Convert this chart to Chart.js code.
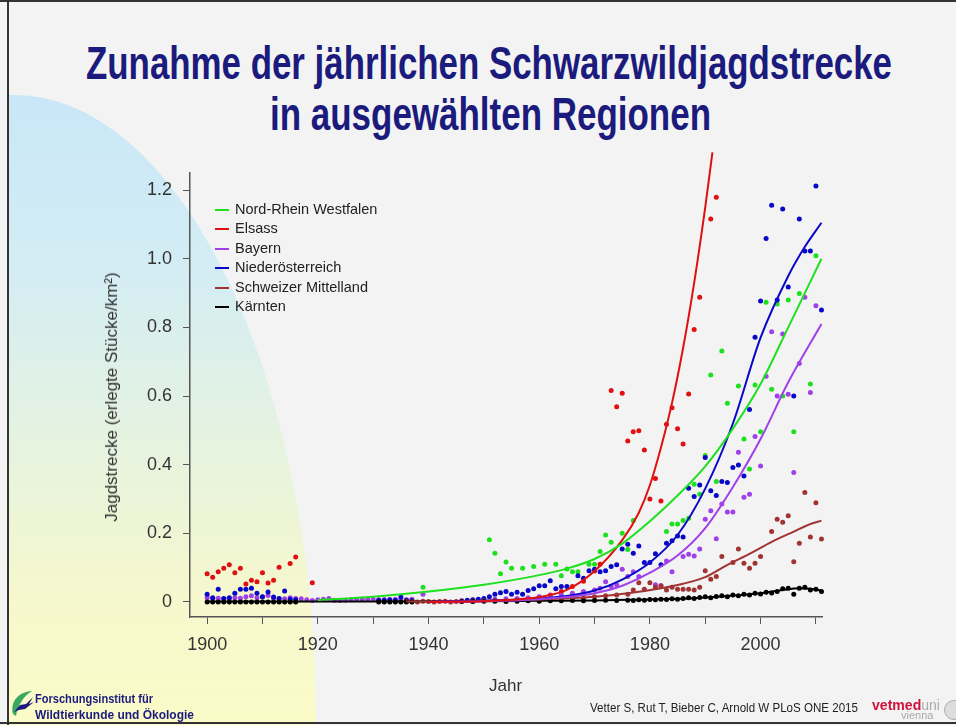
<!DOCTYPE html>
<html>
<head>
<meta charset="utf-8">
<script src="https://cdn.jsdelivr.net/npm/chart.js@4.4.1/dist/chart.umd.min.js"></script>
<style>
html, body { margin: 0; padding: 0; }
body { width: 956px; height: 725px; position: relative; overflow: hidden; background: #f3f3f3; font-family: "Liberation Sans", Arial, sans-serif; }
#blobClip { position: absolute; left: 8px; top: 0; width: 400px; height: 725px; overflow: hidden; }
#blob { position: absolute; left: -296px; top: 95px; width: 604px; height: 1260px; border-radius: 50%;
  background: linear-gradient(#c9e7f8 0%, #d4edf4 14%, #e6f3df 28%, #f6f8cd 40%, #fbfbc8 50%, #fbfbc8 100%); }
.frame { position: absolute; background: #333; }
.fit { position: absolute; white-space: nowrap; transform-origin: 0 0; }
.title { font-family: "Liberation Sans Narrow", "Liberation Sans", Arial, sans-serif; font-weight: bold; font-size: 47px; line-height: 47px; color: #1b1b7d; }
#chartBox { position: absolute; left: 0; top: 0; width: 956px; height: 725px; }
.legend { position: absolute; left: 215px; top: 200px; font-size: 14.5px; color: #222; }
.legend div { height: 19.4px; line-height: 19.4px; position: relative; padding-left: 20px; white-space: nowrap; }
.legend span { position: absolute; left: 0; top: 9px; width: 14px; height: 2px; }
.axt { position: absolute; font-size: 17px; color: #333; white-space: nowrap; }
.inst { font-weight: bold; font-size: 12px; color: #1b1b7d; line-height: 14px; }
.cite { font-size: 12px; color: #222; }
</style>
</head>
<body>
<div id="blobClip"><div id="blob"></div></div>
<div class="frame" style="left:0;top:0;width:956px;height:2px;"></div>
<div class="frame" style="left:7px;top:0;width:2px;height:725px;"></div>
<div class="frame" style="left:0;top:722px;width:956px;height:2px;"></div>

<div id="t1" class="fit title" style="left:86px;top:39px;">Zunahme der jährlichen Schwarzwildjagdstrecke</div>
<div id="t2" class="fit title" style="left:270px;top:90px;">in ausgewählten Regionen</div>

<div id="chartBox"><canvas id="chart" width="956" height="725"></canvas></div>

<div class="legend" id="legend"></div>
<div class="axt" style="left:112px;top:397px;transform:translate(-50%,-50%) rotate(-90deg);">Jagdstrecke (erlegte Stücke/km²)</div>
<div class="axt" style="left:489px;top:676px;">Jahr</div>

<svg style="position:absolute;left:10px;top:688px;" width="26" height="32" viewBox="0 0 26 32">
  <path d="M3 26 C0 14 8 4 22 3 C14 8 8 16 6 28 Z" fill="#3aa860"/>
  <path d="M4 24 L10 17 L16 16 L23 9 L19 16 L24 14 L15 21 L9 22 Z" fill="#1b1b7d"/>
</svg>
<div id="i1" class="fit inst" style="left:35px;top:692px;">Forschungsinstitut für</div>
<div id="i2" class="fit inst" style="left:35px;top:708px;">Wildtierkunde und Ökologie</div>
<div id="c1" class="fit cite" style="left:590px;top:701px;">Vetter S, Rut T, Bieber C, Arnold W PLoS ONE 2015</div>
<div id="v1" class="fit" style="left:872px;top:697px;font-size:14px;font-weight:bold;color:#d0103a;">vetmed<span style="font-weight:normal;color:#aaa;">uni</span></div>
<div class="fit" style="left:901px;top:709px;font-size:11px;color:#aaa;">vienna</div>
<div style="position:absolute;left:944px;top:700px;width:18px;height:18px;border-radius:50%;border:1px solid #aaa;background:#ddd;"></div>

<script>
// axis ticks
const yTicks = [0, 0.2, 0.4, 0.6, 0.8, 1.0, 1.2];
const xTicks = [1900, 1910, 1920, 1930, 1940, 1950, 1960, 1970, 1980, 1990, 2000, 2010];
const xLabelled = [1900, 1920, 1940, 1960, 1980, 2000];

const regions = ['Nord-Rhein Westfalen', 'Elsass', 'Bayern', 'Niederösterreich', 'Schweizer Mittelland', 'Kärnten'];
const colors = ['#1ee01e', '#e01010', '#a040e8', '#0808c8', '#a03434', '#000000'];

// yearly bag (year, animals per km²)
const nrwPoints = [[1939,0.043],[1951,0.181],[1952,0.142],[1953,0.082],[1954,0.116],[1955,0.098],[1957,0.098],[1959,0.103],
  [1961,0.110],[1963,0.110],[1964,0.076],[1965,0.096],[1966,0.088],[1967,0.088],[1969,0.110],[1970,0.110],[1971,0.147],
  [1972,0.195],[1973,0.174],[1975,0.200],[1976,0.153],[1977,0.237],[1983,0.205],[1984,0.227],[1985,0.227],[1986,0.237],
  [1987,0.244],[1988,0.343],[1989,0.314],[1990,0.427],[1991,0.661],[1992,0.351],[1993,0.731],[1994,0.579],[1996,0.629],
  [1997,0.475],[1998,0.387],[1999,0.632],[2000,0.496],[2001,0.873],[2002,0.620],[2003,0.868],[2004,0.600],[2005,0.880],
  [2006,0.496],[2007,0.899],[2008,1.265],[2009,0.635],[2010,1.009]];

const elsassPoints = [[1900,0.082],[1901,0.072],[1902,0.088],[1903,0.098],[1904,0.108],[1905,0.085],[1906,0.098],[1907,0.052],
  [1908,0.063],[1909,0.059],[1910,0.085],[1911,0.055],[1912,0.063],[1913,0.101],[1915,0.112],[1916,0.131],[1919,0.056],
  [1956,0.006],[1958,0.01],[1960,0.014],[1962,0.02],[1964,0.03],[1966,0.045],[1968,0.06],[1970,0.09],[1971,0.11],
  [1973,0.616],[1974,0.569],[1975,0.608],[1976,0.469],[1977,0.496],[1978,0.499],[1979,0.443],[1980,0.300],[1981,0.360],
  [1982,0.294],[1983,0.518],[1984,0.566],[1985,0.505],[1986,0.460],[1987,0.606],[1988,0.794],[1989,0.888],[1990,1.302],
  [1991,1.116],[1992,1.179]];

const bayernPoints = [[1900,0.012],[1901,0.010],[1902,0.011],[1903,0.009],[1904,0.010],[1905,0.012],[1906,0.011],[1907,0.015],
  [1908,0.018],[1909,0.012],[1910,0.014],[1911,0.019],[1912,0.011],[1913,0.010],[1914,0.009],[1915,0.012],[1916,0.010],
  [1917,0.009],[1918,0.006],[1919,0.004],[1920,0.006],[1921,0.008],[1922,0.010],[1923,0.005],[1924,0.004],[1925,0.005],
  [1926,0.006],[1927,0.007],[1928,0.008],[1929,0.008],[1930,0.007],[1931,0.006],[1932,0.007],[1933,0.006],[1934,0.008],
  [1935,0.007],[1936,0.006],[1937,0.008],[1939,0.022],[1946,0.004],[1948,0.005],[1950,0.006],[1952,0.008],[1954,0.009],
  [1956,0.010],[1958,0.012],[1960,0.015],[1962,0.018],[1964,0.020],[1966,0.025],[1968,0.030],[1970,0.035],[1971,0.040],
  [1972,0.059],[1973,0.045],[1974,0.050],[1975,0.095],[1976,0.074],[1977,0.088],[1978,0.074],[1981,0.050],[1982,0.047],
  [1983,0.119],[1984,0.088],[1986,0.132],[1987,0.139],[1988,0.134],[1989,0.154],[1990,0.241],[1991,0.266],[1992,0.184],
  [1993,0.285],[1994,0.262],[1995,0.262],[1996,0.436],[1997,0.305],[1998,0.314],[1999,0.482],[2000,0.396],[2001,0.658],
  [2002,0.787],[2003,0.600],[2004,0.781],[2005,0.605],[2006,0.377],[2007,0.695],[2008,0.888],[2009,0.610],[2010,0.863]];

const noePoints = [[1900,0.022],[1901,0.012],[1902,0.037],[1903,0.010],[1904,0.012],[1905,0.025],[1906,0.037],[1907,0.037],
  [1908,0.040],[1909,0.025],[1910,0.015],[1911,0.029],[1912,0.014],[1913,0.010],[1914,0.032],[1915,0.008],[1916,0.006],
  [1931,0.005],[1932,0.004],[1933,0.006],[1934,0.004],[1935,0.014],[1936,0.005],[1937,0.004],[1947,0.005],[1948,0.006],
  [1949,0.008],[1950,0.010],[1951,0.015],[1952,0.022],[1953,0.027],[1954,0.030],[1955,0.022],[1956,0.028],[1957,0.022],
  [1958,0.033],[1959,0.038],[1960,0.047],[1961,0.047],[1962,0.062],[1963,0.038],[1964,0.045],[1965,0.045],[1967,0.076],
  [1968,0.069],[1969,0.091],[1970,0.095],[1971,0.088],[1972,0.091],[1973,0.103],[1974,0.108],[1975,0.154],[1976,0.168],
  [1977,0.142],[1978,0.163],[1979,0.115],[1980,0.115],[1981,0.140],[1982,0.108],[1983,0.171],[1984,0.178],[1985,0.192],
  [1986,0.189],[1987,0.331],[1988,0.307],[1989,0.341],[1990,0.421],[1991,0.324],[1992,0.310],[1993,0.351],[1994,0.348],
  [1995,0.392],[1996,0.399],[1997,0.367],[1998,0.561],[1999,0.771],[2000,0.877],[2001,1.059],[2002,1.156],[2003,0.880],
  [2004,1.145],[2005,0.918],[2006,0.600],[2007,1.116],[2008,1.023],[2009,1.023],[2010,1.212],[2011,0.851]];

const schweizPoints = [[1936,0.002],[1937,0.001],[1938,0.000],[1939,0.002],[1940,0.001],[1941,0.000],[1942,0.001],[1943,0.002],
  [1944,0.000],[1945,0.001],[1946,0.002],[1948,0.002],[1950,0.003],[1952,0.004],[1954,0.003],[1956,0.005],[1958,0.006],
  [1960,0.007],[1962,0.008],[1964,0.010],[1966,0.012],[1968,0.011],[1970,0.015],[1972,0.018],[1974,0.020],[1976,0.022],
  [1977,0.035],[1978,0.056],[1979,0.037],[1980,0.056],[1981,0.043],[1982,0.047],[1983,0.035],[1984,0.043],[1985,0.037],
  [1986,0.037],[1987,0.037],[1988,0.035],[1989,0.043],[1990,0.091],[1991,0.066],[1992,0.074],[1993,0.132],[1995,0.115],
  [1996,0.154],[1997,0.113],[1998,0.098],[1999,0.113],[2000,0.132],[2002,0.205],[2003,0.241],[2004,0.232],[2005,0.251],
  [2006,0.117],[2007,0.171],[2008,0.319],[2009,0.189],[2010,0.289],[2011,0.183]];

const kaerntenPoints = [[1900,0],[1901,0],[1902,0],[1903,0],[1904,0],[1905,0],[1906,0],[1907,0],[1908,0],[1909,0],[1910,0],
  [1911,0],[1912,0],[1913,0],[1914,0],[1915,0],[1916,0],[1931,0],[1932,0],[1933,0],[1934,0],[1935,0],[1936,0],[1937,0],
  [1946,0.001],[1948,0.001],[1950,0.002],[1952,0.002],[1954,0.001],[1956,0.002],[1958,0.003],[1960,0.002],[1962,0.003],
  [1964,0.003],[1966,0.004],[1968,0.003],[1970,0.004],[1972,0.005],[1974,0.004],[1976,0.005],[1977,0.004],[1978,0.006],
  [1979,0.005],[1980,0.007],[1981,0.006],[1982,0.008],[1983,0.007],[1984,0.009],[1985,0.008],[1986,0.010],[1987,0.012],
  [1988,0.010],[1989,0.013],[1990,0.015],[1991,0.012],[1992,0.016],[1993,0.018],[1994,0.015],[1995,0.020],[1996,0.018],
  [1997,0.022],[1998,0.020],[1999,0.025],[2000,0.023],[2001,0.028],[2002,0.026],[2003,0.030],[2004,0.038],[2005,0.040],
  [2006,0.022],[2007,0.040],[2008,0.043],[2009,0.035],[2010,0.037],[2011,0.030]];

// fitted trend curves
const nrwCurve = [[1920,0.005],[1930,0.015],[1940,0.030],[1950,0.050],[1960,0.078],[1965,0.097],[1970,0.125],[1975,0.170],
  [1980,0.235],[1985,0.310],[1990,0.395],[1995,0.505],[2000,0.635],[2005,0.800],[2011,1.000]];
const elsassCurve = [[1940,0.000],[1950,0.002],[1955,0.006],[1960,0.014],[1965,0.035],[1970,0.090],[1975,0.180],[1978,0.260],
  [1980,0.340],[1982,0.450],[1984,0.580],[1986,0.740],[1988,0.930],[1990,1.150],[1991.3,1.310]];
const bayernCurve = [[1940,0.000],[1950,0.002],[1960,0.008],[1965,0.014],[1970,0.025],[1975,0.047],[1980,0.085],[1985,0.135],
  [1990,0.215],[1995,0.335],[2000,0.475],[2005,0.640],[2011,0.810]];
const noeCurve = [[1940,0.000],[1950,0.003],[1960,0.010],[1965,0.017],[1970,0.033],[1975,0.065],[1980,0.115],[1985,0.195],
  [1990,0.330],[1995,0.520],[2000,0.770],[2005,0.950],[2008,1.035],[2011,1.105]];
const schweizCurve = [[1936,0.001],[1950,0.003],[1960,0.007],[1970,0.015],[1976,0.025],[1982,0.040],[1986,0.053],[1990,0.072],
  [1994,0.108],[1998,0.140],[2002,0.175],[2006,0.205],[2009,0.227],[2011,0.237]];
const kaerntenCurve = [[1900,0.001],[1930,0.001],[1950,0.002],[1960,0.003],[1970,0.004],[1976,0.006],[1982,0.008],[1988,0.011],
  [1994,0.017],[2000,0.025],[2004,0.035],[2007,0.040],[2009,0.038],[2011,0.033]];

const pointSets = [nrwPoints, elsassPoints, bayernPoints, noePoints, schweizPoints, kaerntenPoints];
const curveSets = [nrwCurve, elsassCurve, bayernCurve, noeCurve, schweizCurve, kaerntenCurve];

const toXY = arr => arr.map(p => ({ x: p[0], y: p[1] }));

const datasets = [];
regions.forEach((name, i) => {
    datasets.push({
        label: name,
        data: toXY(curveSets[i]),
        showLine: true,
        borderColor: colors[i],
        borderWidth: 2,
        pointRadius: 0,
        cubicInterpolationMode: 'monotone',
        clip: false,
        order: 1
    });
    datasets.push({
        label: name + ' Daten',
        data: toXY(pointSets[i]),
        showLine: false,
        backgroundColor: colors[i],
        borderWidth: 0,
        pointRadius: 2.5,
        clip: false,
        order: 2 + (5 - i)
    });
});

const tickFont = { family: '"Liberation Sans", Arial, sans-serif', size: 18 };

new Chart(document.getElementById('chart'), {
    type: 'scatter',
    data: { datasets: datasets },
    options: {
        responsive: false,
        animation: false,
        events: [],
        layout: { padding: { top: 173, right: 134, bottom: 0, left: 0 } },
        plugins: { legend: { display: false }, tooltip: { enabled: false } },
        scales: {
            x: {
                type: 'linear',
                min: 1896.9,
                max: 2011.1,
                afterFit: s => { s.height = 108; },
                afterBuildTicks: s => { s.ticks = xTicks.map(v => ({ value: v })); },
                ticks: {
                    font: tickFont, color: '#333', padding: 10, maxRotation: 0, autoSkip: false,
                    callback: v => xLabelled.includes(v) ? String(v) : ''
                },
                grid: { drawOnChartArea: false, drawTicks: true, tickLength: 7, color: '#555' },
                border: { color: '#555', width: 1.5 }
            },
            y: {
                min: -0.044,
                max: 1.25,
                afterFit: s => { s.width = 190; },
                afterBuildTicks: s => { s.ticks = yTicks.map(v => ({ value: v })); },
                ticks: {
                    font: tickFont, color: '#333', padding: 11, autoSkip: false,
                    callback: v => v === 0 ? '0' : v.toFixed(1)
                },
                grid: { drawOnChartArea: false, drawTicks: true, tickLength: 7, color: '#555' },
                border: { color: '#555', width: 1.5 }
            }
        }
    }
});

// legend
const legend = document.getElementById('legend');
regions.forEach((name, i) => {
    const row = document.createElement('div');
    row.innerHTML = '<span style="background:' + colors[i] + '"></span>' + name;
    legend.appendChild(row);
});

// squeeze text blocks to the widths seen in the slide
function fit(id, w) {
    const el = document.getElementById(id);
    const real = el.getBoundingClientRect().width;
    el.style.transform = 'scaleX(' + (w / real) + ')';
}
fit('t1', 806);
fit('t2', 441);
fit('i1', 118);
fit('i2', 159);
fit('c1', 268);
fit('v1', 68);
</script>
</body>
</html>
